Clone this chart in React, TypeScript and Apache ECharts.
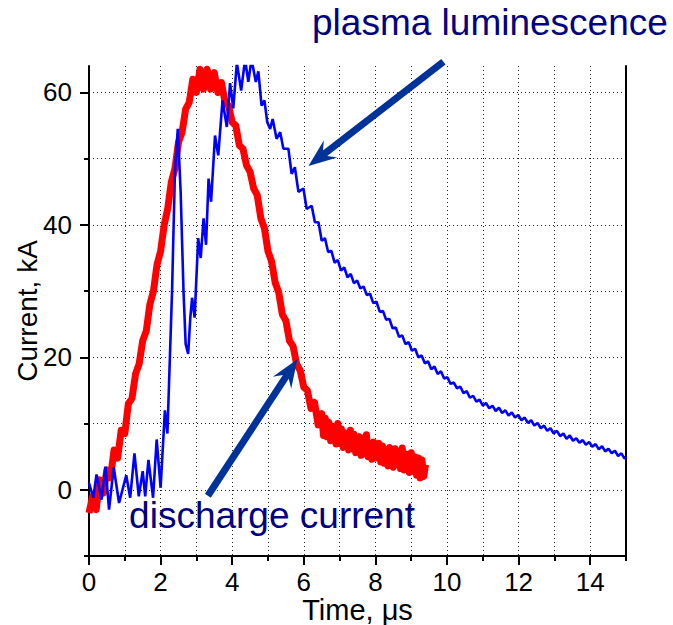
import React, { useEffect, useRef } from "react";
import * as echarts from "echarts";

// discharge current (kA): 0 – 6.5 µs sampled every 0.1 µs
const currentHeadV = [
  -3.5, -1.0, -3.0, 1.5, -0.5, 3.0, 1.8, 6.0, 4.8, 9.0,
  8.5, 13.0, 13.8, 17.5, 19.0, 22.5, 24.0, 28.0, 30.0, 34.0,
  36.0, 40.0, 42.5, 46.5, 48.5, 52.5, 54.0, 57.5, 58.5, 62.0,
  60.0, 63.5, 60.5, 63.5, 60.5, 63.0, 60.0, 61.5, 58.5, 58.0,
  55.5, 55.0, 52.0, 51.5, 49.0, 48.0, 45.5, 44.5, 41.0, 39.5,
  36.0, 34.5, 31.3, 29.8, 26.5, 25.5, 22.5, 21.7, 19.0, 18.0,
  15.5, 15.0, 12.3, 13.2, 9.8, 11.5,
];
// discharge current (kA): 6.55 – 9.4 µs sampled every 0.05 µs
const currentTailV = [
  8.2, 10.8, 8.0, 10.2, 7.4, 9.6, 8.8, 6.9, 10.0, 7.0,
  9.2, 6.4, 8.6, 7.8, 6.0, 9.0, 6.2, 8.4, 5.6, 7.6,
  8.0, 5.2, 7.8, 5.4, 8.3, 5.0, 6.8, 4.6, 7.2, 4.8,
  6.4, 7.0, 4.2, 6.6, 4.0, 6.1, 3.6, 6.4, 4.4, 3.4,
  6.2, 3.8, 5.8, 3.2, 6.3, 3.0, 5.4, 4.6, 2.6, 5.6,
  2.8, 5.0, 2.2, 4.8, 1.8, 4.5, 2.0, 3.8,
];
const currentHeadStep = 0.1;
const currentTailStart = 6.55;
const currentTailStep = 0.05;
const currentT = [
  ...currentHeadV.map((_, i) => Math.round(i * currentHeadStep * 100) / 100),
  ...currentTailV.map((_, i) => Math.round((currentTailStart + i * currentTailStep) * 100) / 100),
];
const currentV = [...currentHeadV, ...currentTailV];

// plasma luminescence, time in µs
const lumT = [
  0.0, 0.12, 0.21, 0.35, 0.46, 0.56, 0.69, 0.84, 1.04, 1.15,
  1.27, 1.39, 1.5, 1.57, 1.66, 1.79, 1.89, 2.0, 2.12, 2.19,
  2.32, 2.4, 2.48, 2.56, 2.64, 2.7, 2.77, 2.83, 2.88, 2.95,
  3.05, 3.12, 3.2, 3.27, 3.34, 3.41, 3.52, 3.61, 3.73, 3.85,
  3.94, 4.03, 4.13, 4.25, 4.36, 4.45, 4.54, 4.66, 4.73, 4.82,
  4.9, 4.98, 5.06, 5.13, 5.24, 5.34, 5.43, 5.57, 5.66, 5.75,
  5.85, 5.99, 6.08, 6.22, 6.31, 6.41,
  6.5, 6.59, 6.68, 6.77, 6.86, 6.95, 7.04, 7.13, 7.22, 7.31,
  7.4, 7.49, 7.58, 7.67, 7.76, 7.85, 7.94, 8.03, 8.12, 8.21,
  8.3, 8.39, 8.48, 8.57, 8.66, 8.75, 8.84, 8.93, 9.02, 9.11,
  9.2, 9.29, 9.38, 9.47, 9.56, 9.65, 9.74, 9.83, 9.92, 10.01,
  10.1, 10.19, 10.28, 10.37, 10.46, 10.55, 10.64, 10.73, 10.82, 10.91,
  11.0, 11.09, 11.18, 11.27, 11.36, 11.45, 11.54, 11.63, 11.72, 11.81,
  11.9, 11.99, 12.08, 12.17, 12.26, 12.35, 12.44, 12.53, 12.62, 12.71,
  12.8, 12.89, 12.98, 13.07, 13.16, 13.25, 13.34, 13.43, 13.52, 13.61,
  13.7, 13.79, 13.88, 13.97, 14.06, 14.15, 14.24, 14.33, 14.42, 14.51,
  14.6, 14.69, 14.78, 14.87, 14.96, 15.0,
];
const lumV = [
  1.0, -1.2, 2.3, -1.5, 3.5, -3.0, 3.4, -2.0, 2.2, -1.2,
  5.5, -1.0, 2.8, -1.0, 4.5, -1.2, 7.6, 0.3, 12.0, 8.5,
  30.0, 48.0, 54.5, 45.0, 30.0, 22.0, 20.5, 26.0, 29.0, 26.0,
  38.0, 35.0, 41.0, 37.0, 47.0, 43.5, 53.5, 50.5, 58.8, 54.8,
  61.4, 57.6, 64.5, 60.3, 65.0, 61.6, 65.0, 61.6, 63.2, 58.0,
  58.8, 55.5, 54.5, 56.0, 53.0, 54.0, 51.5, 51.5, 47.7, 48.7,
  45.0, 45.5, 42.4, 42.9, 40.4, 40.4,
  37.6, 38.0, 35.9, 36.1, 34.3, 34.7, 33.1, 33.6, 32.1, 32.6,
  31.2, 31.6, 30.4, 30.7, 29.4, 29.6, 28.2, 28.4, 26.9, 27.0,
  25.7, 25.8, 24.4, 24.5, 23.1, 23.3, 22.0, 22.3, 21.0, 21.3,
  20.0, 20.3, 19.1, 19.4, 18.2, 18.6, 17.5, 17.9, 16.8, 17.0,
  16.0, 16.2, 15.3, 15.6, 14.6, 14.9, 13.9, 14.2, 13.3, 13.6,
  12.7, 13.1, 12.3, 12.7, 11.9, 12.4, 11.6, 12.0, 11.2, 11.7,
  10.9, 11.3, 10.5, 10.9, 10.1, 10.5, 9.7, 10.1, 9.3, 9.7,
  8.9, 9.3, 8.5, 8.9, 8.1, 8.5, 7.7, 8.2, 7.4, 7.8,
  7.1, 7.5, 6.8, 7.2, 6.5, 6.9, 6.1, 6.6, 5.8, 6.2,
  5.5, 5.9, 5.1, 5.5, 4.7, 5.0,
];

const xLabelTicks = [0, 2, 4, 6, 8, 10, 12, 14];
const xMinorTicks = [0, 1, 2, 3, 4, 5, 6, 7, 8, 9, 10, 11, 12, 13, 14, 15];
const yLabelTicks = [0, 20, 40, 60];
const yMinorTicks = [-10, 0, 10, 20, 30, 40, 50, 60];
const xRange = [0, 15];
const yRange = [-10, 64];

const xName = "Time, μs";
const yName = "Current, kA";
const lumLabel = "plasma luminescence";
const curLabel = "discharge current";

// annotation anchors in data units [time, current]
const lumLabelAt = [6.23, 70.6];
const curLabelAt = [1.12, -3.9];
const lumArrow = { from: [9.9, 64.65], to: [6.13, 48.9] };
const curArrow = { from: [3.32, -0.9], to: [5.82, 19.7] };

const FONT = "'Liberation Sans', Arial, sans-serif";
const NAVY = "#000080";
const ARROW = "#003399";

function arrowPolygon(tail: number[], tip: number[]) {
  const dx = tip[0] - tail[0];
  const dy = tip[1] - tail[1];
  const len = Math.hypot(dx, dy);
  const ux = dx / len, uy = dy / len;
  const nx = -uy, ny = ux;
  const hw = 3.5, headLen = 28, headW = 11, notch = 21;
  const p = (a: number, b: number) => [tip[0] - ux * a + nx * b, tip[1] - uy * a + ny * b];
  return [
    tip,
    p(headLen, headW),
    p(notch, hw),
    [tail[0] + nx * hw, tail[1] + ny * hw],
    [tail[0] - nx * hw, tail[1] - ny * hw],
    p(notch, -hw),
    p(headLen, -headW),
  ];
}

export default function App() {
  const ref = useRef<HTMLDivElement>(null);
  useEffect(() => {
    if (!ref.current) return;
    const chart = echarts.init(ref.current, undefined, { renderer: "svg" });
    const dotted = { type: [1, 3], color: "#222", width: 1 };
    const blackLine = { color: "#000", width: 2 };
    const option: any = {
      animation: false,
      backgroundColor: "#fff",
      grid: { left: 89, right: 47, top: 66, bottom: 69, containLabel: false, outerBoundsMode: "none" },
      xAxis: [
        {
          type: "value", min: xRange[0], max: xRange[1], position: "bottom",
          axisLine: { show: true, onZero: false, lineStyle: blackLine },
          axisTick: { show: true, inside: false, length: 5, lineStyle: blackLine, customValues: xMinorTicks },
          axisLabel: { show: true, customValues: xLabelTicks, fontSize: 26, color: "#000", fontFamily: FONT, margin: 13 },
          splitLine: { show: true, lineStyle: dotted },
          name: xName, nameLocation: "middle", nameGap: 39, nameMoveOverlap: false,
          nameTextStyle: { fontSize: 29, color: "#000", fontFamily: FONT },
        },
        {
          type: "value", min: xRange[0], max: xRange[1], position: "bottom",
          axisLine: { show: false, onZero: false },
          axisTick: { show: true, inside: false, length: 9, lineStyle: blackLine, customValues: xLabelTicks },
          axisLabel: { show: false },
          splitLine: { show: false },
        },
      ],
      yAxis: [
        {
          type: "value", min: yRange[0], max: yRange[1], position: "left",
          axisLine: { show: true, onZero: false, lineStyle: blackLine },
          axisTick: { show: true, inside: false, length: 5, lineStyle: blackLine, customValues: yMinorTicks },
          axisLabel: { show: true, customValues: yLabelTicks, fontSize: 26, color: "#000", fontFamily: FONT, margin: 17 },
          splitLine: { show: true, lineStyle: dotted },
          name: yName, nameLocation: "middle", nameGap: 48, nameRotate: 90, nameMoveOverlap: false,
          nameTextStyle: { fontSize: 28, color: "#000", fontFamily: FONT },
        },
        {
          type: "value", min: yRange[0], max: yRange[1], position: "left",
          axisLine: { show: false, onZero: false },
          axisTick: { show: true, inside: false, length: 9, lineStyle: blackLine, customValues: yLabelTicks },
          axisLabel: { show: false },
          splitLine: { show: false },
        },
        {
          type: "value", min: yRange[0], max: yRange[1], position: "right",
          axisLine: { show: true, onZero: false, lineStyle: blackLine },
          axisTick: { show: false },
          axisLabel: { show: false },
          splitLine: { show: false },
        },
      ],
      series: [
        {
          name: curLabel, type: "line", xAxisIndex: 0, yAxisIndex: 0,
          data: currentT.map((t, i) => [t, currentV[i]]),
          showSymbol: false, symbol: "none",
          lineStyle: { color: "#ff0000", width: 7, join: "round" },
          z: 2,
        },
        {
          name: lumLabel, type: "line", xAxisIndex: 0, yAxisIndex: 0,
          data: lumT.map((t, i) => [t, lumV[i]]),
          showSymbol: false, symbol: "none",
          lineStyle: { color: "#0000ff", width: 2.6 },
          z: 3,
        },
      ],
    };
    chart.setOption(option);
    const px = (p: number[]) => chart.convertToPixel({ seriesIndex: 0 }, p) as number[];
    const lt = px(lumLabelAt);
    const ct = px(curLabelAt);
    chart.setOption({
      graphic: [
        { type: "polygon", z: 100, shape: { points: arrowPolygon(px(lumArrow.from), px(lumArrow.to)) }, style: { fill: ARROW } },
        { type: "polygon", z: 100, shape: { points: arrowPolygon(px(curArrow.from), px(curArrow.to)) }, style: { fill: ARROW } },
        { type: "text", z: 101, x: lt[0], y: lt[1], style: { text: lumLabel, fontSize: 37, fontFamily: FONT, fill: NAVY, verticalAlign: "middle", align: "left" } },
        { type: "text", z: 101, x: ct[0], y: ct[1], style: { text: curLabel, fontSize: 37, fontFamily: FONT, fill: NAVY, verticalAlign: "middle", align: "left" } },
      ],
    });
    return () => chart.dispose();
  }, []);
  return (
    <div
      ref={ref}
      style={{ position: "fixed", left: 0, top: 0, width: 673, height: 625, background: "#fff" }}
    />
  );
}
